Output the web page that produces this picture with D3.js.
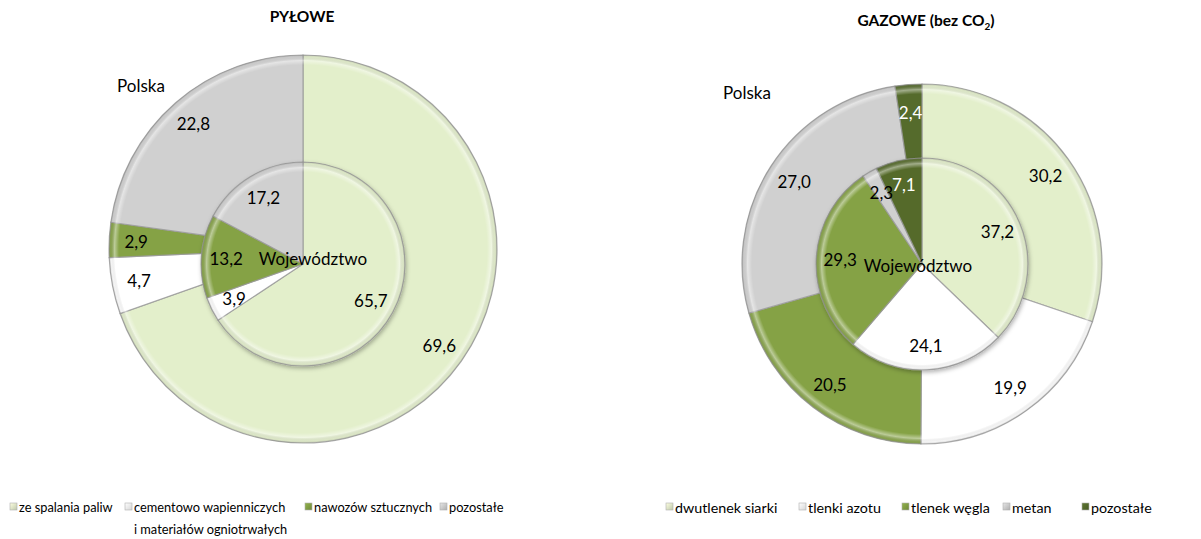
<!DOCTYPE html>
<html><head><meta charset="utf-8">
<script src="https://cdn.jsdelivr.net/npm/d3@7"></script>
<style>
html,body{margin:0;padding:0;background:#fff;}
svg{display:block;font-family:Lato,"Open Sans",sans-serif;}
</style></head>
<body>
<svg id="chart" width="1201" height="539"></svg>
<script>
// ---------- data ----------
const pyloweCategories = ["ze spalania paliw", "cementowo wapienniczych\ni materiałów ogniotrwałych", "nawozów sztucznych", "pozostałe"];
const pylowePolska = [69.6, 4.7, 2.9, 22.8];
const pyloweWojewodztwo = [65.7, 3.9, 13.2, 17.2];

const gazoweCategories = ["dwutlenek siarki", "tlenki azotu", "tlenek węgla", "metan", "pozostałe"];
const gazowePolska = [30.2, 19.9, 20.5, 27.0, 2.4];
const gazoweWojewodztwo = [37.2, 24.1, 29.3, 2.3, 7.1];

const outerSeriesName = "Polska";
const innerSeriesName = "Województwo";

// ---------- style ----------
const C_LIGHT = "#e3efcb", C_WHITE = "#ffffff", C_GREEN = "#85a245", C_GRAY = "#d0d0d0", C_DARK = "#556b2c";
const pyloweColors = [C_LIGHT, C_WHITE, C_GREEN, C_GRAY];
const gazoweColors = [C_LIGHT, C_WHITE, C_GREEN, C_GRAY, C_DARK];
const gazoweLabelColors = ["#000", "#000", "#000", "#000", "#fff"];
const pyloweLabelColors = ["#000", "#000", "#000", "#000"];

const svg = d3.select("#chart");
const defs = svg.append("defs");

const sh = defs.append("filter").attr("id", "shadow").attr("x", "-20%").attr("y", "-20%").attr("width", "140%").attr("height", "140%");
sh.append("feDropShadow").attr("dx", 1).attr("dy", 2).attr("stdDeviation", 2)
  .attr("flood-color", "#000").attr("flood-opacity", 0.3);

let gradId = 0;
function bevelGradient(R) {
  const id = "bevel" + (gradId++);
  const bev = defs.append("radialGradient").attr("id", id)
    .attr("gradientUnits", "userSpaceOnUse").attr("cx", 0).attr("cy", 0).attr("r", R);
  const f = 1 - 10 / R;
  [[0, "#fff", 0], [f, "#fff", 0], [f + (1 - f) * 0.45, "#fff", 0.45], [f + (1 - f) * 0.8, "#999", 0.1], [1, "#666", 0.3]]
    .forEach(([o, c, a]) => bev.append("stop").attr("offset", o).attr("stop-color", c).attr("stop-opacity", a));
  return id;
}

const fmt = v => d3.format(".1f")(v).replace(".", ",");

function drawPie(g, values, colors, cx, cy, R, labelR, withShadow) {
  const pie = d3.pie().sort(null).value(d => d)(values);
  const arc = d3.arc().innerRadius(0).outerRadius(R);
  const lab = d3.arc().innerRadius(labelR).outerRadius(labelR);
  const grp = g.append("g").attr("transform", `translate(${cx},${cy})`);
  const sl = grp.append("g").attr("filter", withShadow ? "url(#shadow)" : null);
  sl.selectAll("path").data(pie).join("path")
    .attr("d", arc)
    .attr("fill", (d, i) => colors[i])
    .attr("stroke", "#9a9a9a").attr("stroke-opacity", 0.8).attr("stroke-width", 1.2);
  const id = bevelGradient(R);
  grp.append("circle").attr("r", R).attr("fill", `url(#${id})`).attr("pointer-events", "none");
  return { grp, pie, lab };
}

function drawLabels(obj, labelColors) {
  obj.grp.selectAll("text.val").data(obj.pie).join("text").attr("class", "val")
    .attr("x", d => obj.lab.centroid(d)[0])
    .attr("y", d => obj.lab.centroid(d)[1])
    .attr("text-anchor", "middle").attr("dominant-baseline", "central")
    .attr("font-size", 17).attr("fill", (d, i) => labelColors[i])
    .text(d => fmt(d.data));
}

// ---------- PYŁOWE ----------
const gL = svg.append("g");
const oL = drawPie(gL, pylowePolska, pyloweColors, 303, 249, 194, 167, false);
const iL = drawPie(gL, pyloweWojewodztwo, pyloweColors, 303, 264, 102, 77, true);
drawLabels(oL, pyloweLabelColors);
drawLabels(iL, pyloweLabelColors);
gL.append("text").attr("x", 302).attr("y", 22).attr("text-anchor", "middle")
  .attr("font-weight", "bold").attr("font-size", 15.5).text("PYŁOWE");
gL.append("text").attr("x", 141).attr("y", 85).attr("text-anchor", "middle").attr("dominant-baseline", "central")
  .attr("font-size", 17).text(outerSeriesName);
gL.append("text").attr("x", 313).attr("y", 258).attr("text-anchor", "middle").attr("dominant-baseline", "central")
  .attr("font-size", 17).text(innerSeriesName);

// ---------- GAZOWE ----------
const gR = svg.append("g");
const oR = drawPie(gR, gazowePolska, gazoweColors, 922, 264, 180, 152, false);
const iR = drawPie(gR, gazoweWojewodztwo, gazoweColors, 922, 264, 106, 82, true);
drawLabels(oR, gazoweLabelColors);
drawLabels(iR, gazoweLabelColors);
const tR = gR.append("text").attr("x", 926).attr("y", 26).attr("text-anchor", "middle")
  .attr("font-weight", "bold").attr("font-size", 15.5);
tR.append("tspan").text("GAZOWE (bez CO");
tR.append("tspan").attr("font-size", 10).attr("dy", 4).text("2");
tR.append("tspan").attr("dy", -4).text(")");
gR.append("text").attr("x", 747).attr("y", 92).attr("text-anchor", "middle").attr("dominant-baseline", "central")
  .attr("font-size", 17).text(outerSeriesName);
gR.append("text").attr("x", 918).attr("y", 265).attr("text-anchor", "middle").attr("dominant-baseline", "central")
  .attr("font-size", 17).text(innerSeriesName);

// ---------- legends ----------
function legend(cats, colors, xs, y, fs) {
  const lg = svg.append("g");
  cats.forEach((c, i) => {
    const gid = "lg" + (gradId++);
    const gr = defs.append("linearGradient").attr("id", gid).attr("x1", 0).attr("y1", 0).attr("x2", 1).attr("y2", 1);
    gr.append("stop").attr("offset", 0).attr("stop-color", d3.color(colors[i]).brighter(0.3));
    gr.append("stop").attr("offset", 1).attr("stop-color", d3.color(colors[i]).darker(0.5));
    lg.append("rect").attr("x", xs[i]).attr("y", y - 4).attr("width", 7).attr("height", 7)
      .attr("fill", `url(#${gid})`).attr("stroke", "#b0b0b0").attr("stroke-width", 0.6);
    const t = lg.append("text").attr("x", xs[i] + 9).attr("y", y).attr("dominant-baseline", "central")
      .attr("font-size", fs);
    c.split("\n").forEach((line, k) => {
      t.append("tspan").attr("x", xs[i] + 9).attr("dy", k === 0 ? 0 : 22).text(line);
    });
  });
}
legend(pyloweCategories, pyloweColors, [10, 125, 305, 440], 507, 12.8);
legend(gazoweCategories, gazoweColors, [666, 799, 902, 1003, 1082], 507, 14.3);
</script>
</body></html>
